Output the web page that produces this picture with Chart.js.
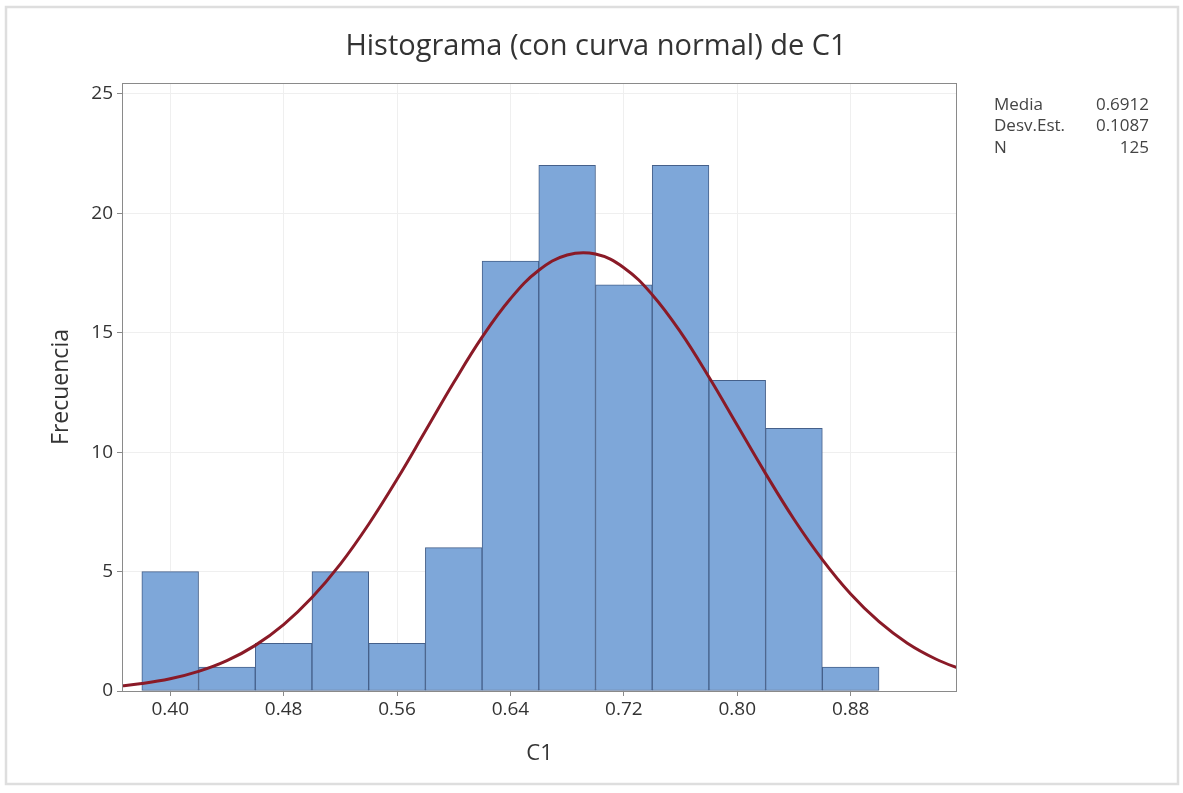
<!DOCTYPE html>
<html>
<head>
<meta charset="utf-8">
<script src="https://cdn.jsdelivr.net/npm/chart.js@4"></script>
<style>
  body { margin: 0; background: #fff; }
  #wrap { width: 1183px; height: 793px; }
</style>
</head>
<body>
<div id="wrap"><canvas id="hist" width="1183" height="793"></canvas></div>
<script>
// Histogram bins (centres) and counts
const binCenters = [0.40, 0.44, 0.48, 0.52, 0.56, 0.60, 0.64, 0.68, 0.72, 0.76, 0.80, 0.84, 0.88];
const counts = [5, 1, 2, 5, 2, 6, 18, 22, 17, 22, 13, 11, 1];

// Normal curve
const curveX = [0.36, 0.38, 0.40, 0.42, 0.44, 0.46, 0.48, 0.50, 0.52, 0.54, 0.56, 0.58, 0.60, 0.62, 0.64, 0.66,
  0.68, 0.70, 0.72, 0.74, 0.76, 0.78, 0.80, 0.82, 0.84, 0.86, 0.88, 0.90, 0.92, 0.94, 0.96];
const curveY = [0.18, 0.31, 0.51, 0.82, 1.27, 1.91, 2.78, 3.91, 5.31, 6.98, 8.86, 10.88, 12.91, 14.81, 16.42, 17.61,
  18.25, 18.29, 17.72, 16.59, 15.02, 13.14, 11.12, 9.10, 7.19, 5.50, 4.06, 2.90, 2.00, 1.34, 0.86];

// Axis ticks
const xTicks = [0.40, 0.48, 0.56, 0.64, 0.72, 0.80, 0.88];
const yTicks = [0, 5, 10, 15, 20, 25];

// Stats box
const statLabels = ["Media", "Desv.Est.", "N"];
const statValues = ["0.6912", "0.1087", "125"];

const FONT = "'Open Sans', 'Noto Sans', sans-serif";

// draws the outer frame, the plot box, the title and the stats
const decorPlugin = {
  id: "decor",
  beforeDraw(chart) {
    const ctx = chart.ctx;
    ctx.save();
    ctx.strokeStyle = "#dedede";
    ctx.lineWidth = 2.5;
    ctx.strokeRect(6, 7, 1172, 777);
    ctx.restore();
  },
  afterDraw(chart) {
    const ctx = chart.ctx;
    const a = chart.chartArea;
    ctx.save();
    ctx.strokeStyle = "#8a8a8a";
    ctx.lineWidth = 1;
    ctx.strokeRect(a.left + 0.5, a.top + 0.5, a.right - a.left - 1, a.bottom - a.top);

    ctx.fillStyle = "#333";
    ctx.font = "500 29px " + FONT;
    ctx.textAlign = "center";
    ctx.textBaseline = "middle";
    ctx.fillText("Histograma (con curva normal) de C1", 596, 47);

    ctx.font = "17px " + FONT;
    ctx.fillStyle = "#444";
    for (let i = 0; i < statLabels.length; i++) {
      const y = 105 + i * 21.5;
      ctx.textAlign = "left";
      ctx.fillText(statLabels[i], 994, y);
      ctx.textAlign = "right";
      ctx.fillText(statValues[i], 1149, y);
    }
    ctx.restore();
  }
};

const ctx = document.getElementById("hist").getContext("2d");
new Chart(ctx, {
  type: "bar",
  data: {
    datasets: [
      {
        type: "line",
        data: curveX.map((x, i) => ({ x: x, y: curveY[i] })),
        borderColor: "#8a1a27",
        borderWidth: 3,
        pointRadius: 0,
        tension: 0.4,
        fill: false,
        order: 0
      },
      {
        type: "bar",
        data: binCenters.map((x, i) => ({ x: x, y: counts[i] })),
        backgroundColor: "#7ea7d9",
        borderColor: "#45608a",
        borderWidth: 1,
        borderSkipped: false,
        barPercentage: 1,
        categoryPercentage: 1,
        order: 1
      }
    ]
  },
  options: {
    responsive: false,
    animation: false,
    layout: { padding: { top: 83, right: 226, bottom: 0, left: 0 } },
    plugins: {
      legend: { display: false },
      tooltip: { enabled: false },
      title: { display: false }
    },
    scales: {
      x: {
        type: "linear",
        offset: false,
        min: 0.366,
        max: 0.955,
        afterBuildTicks: (axis) => { axis.ticks = xTicks.map(v => ({ value: v })); },
        afterFit: (axis) => { axis.height = 102; },
        grid: { offset: false, color: "#efefef", tickColor: "#8a8a8a", tickLength: 5 },
        border: { display: false },
        ticks: {
          color: "#333",
          font: { family: FONT, size: 19, weight: 500 },
          padding: 2,
          maxRotation: 0,
          callback: (v) => Number(v).toFixed(2)
        },
        title: {
          display: true,
          text: "C1",
          color: "#333",
          font: { family: FONT, size: 22 },
          padding: { top: 0, bottom: 26 }
        }
      },
      y: {
        min: 0,
        max: 25.45,
        afterBuildTicks: (axis) => { axis.ticks = yTicks.map(v => ({ value: v })); },
        afterFit: (axis) => { axis.width = 122; },
        grid: { color: "#efefef", tickColor: "#8a8a8a", tickLength: 5 },
        border: { display: false },
        ticks: {
          color: "#333",
          font: { family: FONT, size: 19, weight: 500 },
          padding: 4
        },
        title: {
          display: true,
          text: "Frecuencia",
          color: "#333",
          font: { family: FONT, size: 23 },
          padding: { top: 48, bottom: 0 }
        }
      }
    }
  },
  plugins: [decorPlugin]
});
</script>
</body>
</html>
